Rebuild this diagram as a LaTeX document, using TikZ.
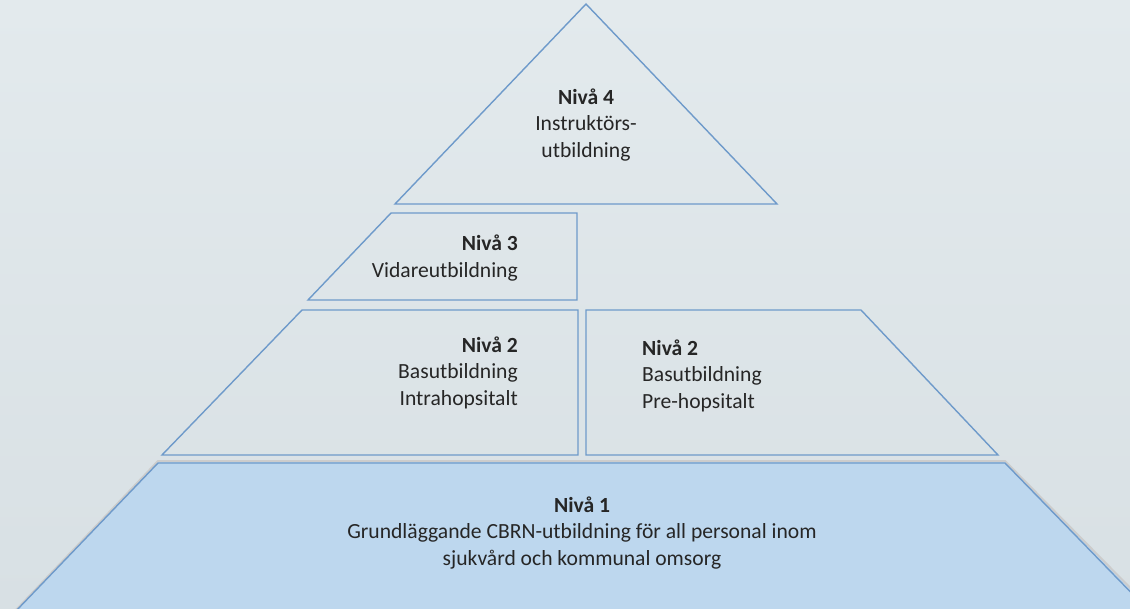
\documentclass[tikz,border=0pt]{standalone}
\usepackage{fontspec}
\setmainfont{Carlito}
\definecolor{bgtop}{HTML}{E3EAED}
\definecolor{bgbot}{HTML}{D8E0E4}
\definecolor{edge}{HTML}{6E9ACA}
\definecolor{basefill}{HTML}{BDD7EE}
\definecolor{txt}{HTML}{262626}
\tikzset{
  level/.style={draw=edge, line width=1.4pt, line join=miter},
  lbl/.style={inner sep=0pt, text=txt, font=\fontsize{21.6pt}{26.5pt}\selectfont},
}
\begin{document}
\begin{tikzpicture}[x=1pt, y=-1pt]
\useasboundingbox (0,0) rectangle (1130,608);
\shade[top color=bgtop, bottom color=bgbot] (0,0) rectangle (1130,608);
\begin{scope}
\clip (0,0) rectangle (1130,608);
% Nivå 1
\draw[level, fill=basefill, draw=gray!40, line width=2pt] (158,461) -- (1005,461) -- (1154,612) -- (14,612) -- cycle;
\draw[level, fill=basefill] (158,463) -- (1005,463) -- (1150,612) -- (15,612) -- cycle;
\end{scope}
% Nivå 4
\draw[level] (586,4) -- (777,204) -- (395,204) -- cycle;
% Nivå 3
\draw[level] (391,213) -- (577,213) -- (577,300) -- (308,300) -- cycle;
% Nivå 2 left
\draw[level] (302,310) -- (578,310) -- (578,455) -- (162,455) -- cycle;
% Nivå 2 right
\draw[level] (586,310) -- (861,310) -- (998,455) -- (586,455) -- cycle;

\node[lbl, anchor=base, align=center] (n4) at (586,157) {\textbf{Nivå 4}\\Instruktörs-\\utbildning};
\node[lbl, anchor=base east, align=right] (n3) at (518,277) {\textbf{Nivå 3}\\Vidareutbildning};
\node[lbl, anchor=base east, align=right] (n2a) at (518,405) {\textbf{Nivå 2}\\Basutbildning\\Intrahopsitalt};
\node[lbl, anchor=base west, align=left] (n2b) at (642,408) {\textbf{Nivå 2}\\Basutbildning\\Pre-hopsitalt};
\node[lbl, anchor=base, align=center] (n1) at (582,565) {\textbf{Nivå 1}\\Grundläggande CBRN-utbildning för all personal inom\\sjukvård och kommunal omsorg};
\end{tikzpicture}
\end{document}
